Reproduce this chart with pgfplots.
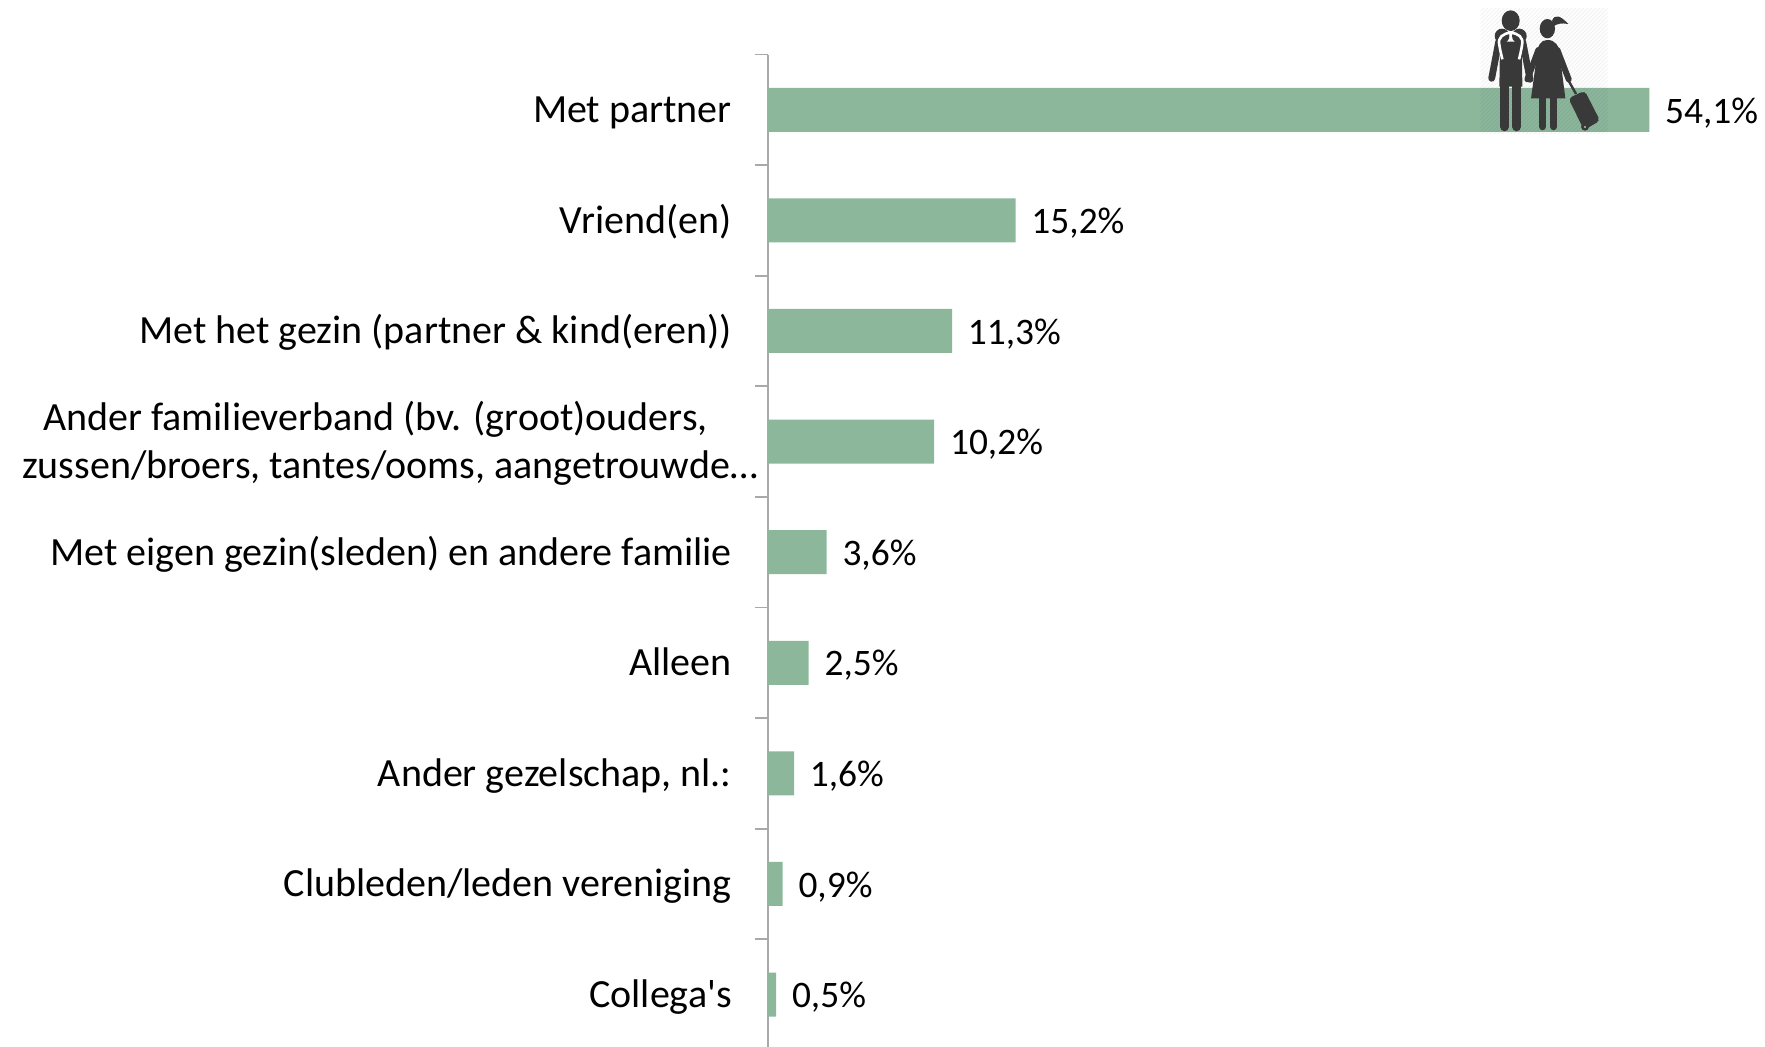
\documentclass[border=0pt]{standalone}
\usepackage{fontspec}
\setmainfont{Carlito}
\newfontfamily\plainfont{Carlito}
\usepackage{pgfplots}
\pgfplotsset{compat=1.18}
\definecolor{barcol}{HTML}{8CB79B}
\definecolor{axcol}{HTML}{A9A9A9}
\definecolor{iconcol}{HTML}{393939}
\pgfplotstableread{
y val
0 54.1
1 15.2
2 11.3
3 10.2
4 3.6
5 2.5
6 1.6
7 0.9
8 0.5
}\datatable
\begin{document}
\begin{tikzpicture}[x=1pt,y=1pt]
\useasboundingbox (0,0) rectangle (882.5,-523.5);
\begin{axis}[
    at={(384pt,-27.25pt)}, anchor=north west,
    scale only axis, width=498.5pt, height=496.25pt,
    xmin=0, xmax=61.2, ymin=-0.5, ymax=8.474,
    y dir=reverse,
    hide x axis,
    axis y line*=left,
    axis line style={draw=axcol, line width=1pt},
    ytick={0,...,8},
    major tick length=0pt,
    minor ytick={-0.5,0.5,...,7.5},
    minor tick length=6.75pt,
    tick align=outside,
    minor tick style={draw=axcol, line width=0.9pt},
    y tick label style={font=\fontsize{20}{24.2}\selectfont, xshift=-14.6pt, yshift=-1.6pt},
    yticklabels={\strut Met partner,\strut Vriend(en),\strut Met het gezin (partner \& kind(eren)),
      {\raisebox{-0.5pt}{\begin{tabular}{@{}r@{}}Ander familieverband (bv. (groot)ouders,\hspace*{25pt}\\zussen/broers, tantes/ooms, aangetrouwde\dots\end{tabular}}\kern-13pt},
      \strut Met eigen gezin(sleden) en andere familie,\strut Alleen,{\strut Ander gezelschap, nl.:},\strut Clubleden/leden vereniging,{\strut\plainfont Collega's}},
    clip=false,
    /pgf/number format/assume math mode=true,
    nodes near coords={\strut\pgfmathprintnumber[fixed,fixed zerofill,precision=1,use comma]{\pgfplotspointmeta}\%},
    every node near coord/.append style={font=\fontsize{18.7}{23}\selectfont, anchor=west, xshift=4.4pt, yshift=-2pt},
]
\addplot[xbar, bar width=22pt, bar shift=0pt, fill=barcol, draw=none,
    point meta=x] table[x=val, y=y] {\datatable};
\end{axis}
% reiziger-icoon, coordinaten in 1/6 pt vanaf (1440 px, 0)
\begin{scope}[shift={(720,0)}, x=0.1667pt, y=-0.1667pt]
  \begin{scope}
    \clip (122,25) rectangle (503,400);
    \foreach \k in {-400,-388,...,400} {
      \draw[black, opacity=0.05, line width=0.5pt] (100+\k,420) -- (100+\k+420,0);
    }
  \end{scope}
  % man
  \fill[iconcol] (212,62) ellipse (27 and 31);
  \fill[iconcol] (186,108) ellipse (22 and 22);
  \fill[iconcol] (238,108) ellipse (22 and 22);
  \fill[iconcol] (180,125) -- (245,125) -- (247,260) -- (178,260) -- cycle;
  \draw[iconcol, line width=3.4pt, line cap=round] (176,125) -- (155,235);
  \draw[iconcol, line width=3.4pt, line cap=round] (248,125) -- (270,238);
  \draw[iconcol, line width=4.6pt, line cap=round] (194,240) -- (194,380);
  \draw[iconcol, line width=4.6pt, line cap=round] (230,240) -- (230,380);
  \draw[white, line width=1.3pt] (212,98) .. controls (190,100) and (172,112) .. (178,135) .. controls (180,150) and (184,165) .. (187,178);
  \draw[white, line width=1.3pt] (212,98) .. controls (234,100) and (252,112) .. (246,135) .. controls (244,150) and (240,165) .. (237,178);
  % vrouw
  \fill[iconcol] (322,86) ellipse (23 and 29);
  \fill[iconcol] (336,62) .. controls (345,40) and (362,48) .. (385,72) .. controls (365,68) and (350,72) .. (342,78) -- cycle;
  \fill[iconcol] (322,120) .. controls (345,120) and (358,135) .. (360,170) -- (376,295) -- (273,295) -- (290,170) .. controls (292,135) and (302,120) .. (322,120) -- cycle;
  \draw[iconcol, line width=3pt, line cap=round] (295,150) -- (262,238);
  \draw[iconcol, line width=3pt, line cap=round] (352,150) -- (386,238);
  \draw[iconcol, line width=3.6pt, line cap=round] (308,290) -- (308,380);
  \draw[iconcol, line width=3.6pt, line cap=round] (341,290) -- (341,380);
  % koffer
  \draw[iconcol, line width=1.2pt] (380,232) -- (408,282);
  \fill[iconcol, rounded corners=2] (385,295) -- (434,272) -- (480,362) -- (432,390) -- cycle;
  \fill[iconcol] (435,380) circle (12);
  \fill[white] (435,381) circle (2.5);
\end{scope}
\end{tikzpicture}
\end{document}
